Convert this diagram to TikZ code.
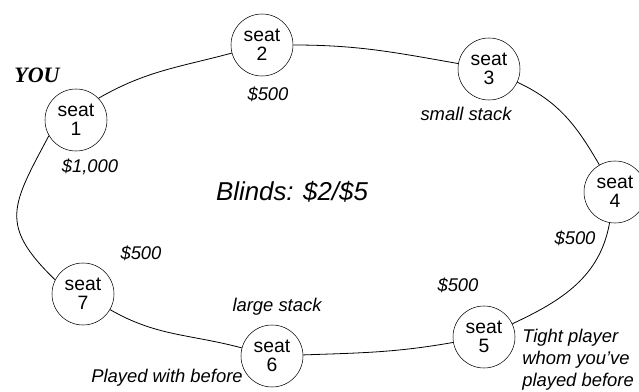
\documentclass[tikz,border=0pt]{standalone}
\usepackage{fontspec}
\setmainfont{Liberation Sans}
\newfontfamily\youfont{Liberation Serif}
\usetikzlibrary{positioning}

\tikzset{
  seat/.style={draw, circle, minimum size=46.5pt, inner sep=0pt, align=center,
    font=\fontsize{14.5}{14.5}\selectfont},
  note/.style={font=\fontsize{13.8}{16.5}\selectfont\itshape, inner sep=0pt},
  rim/.style={line width=0.6pt}
}

\begin{document}
\begin{tikzpicture}[x=0.75pt, y=-0.75pt]
    \useasboundingbox (0,0) rectangle (639,392);
    % seats round the table
    \node[seat] (s1) at (76,120) {seat\\1};
    \node[seat] (s2) at (262,45) {seat\\2};
    \node[seat] (s3) at (489,69) {seat\\3};
    \node[seat] (s4) at (615,192) {seat\\4};
    \node[seat] (s5) at (484,337) {seat\\5};
    \node[seat] (s6) at (272,356) {seat\\6};
    \node[seat] (s7) at (83,294) {seat\\7};
    % table edge
    \draw[rim] (s1.44) to[out=30, in=195] (s2);
    \draw[rim] (s2) to[out=0, in=170] (s3);
    \draw[rim] (s3) to[out=-25, in=120] (s4);
    \draw[rim] (s4) to[out=-100, in=25] (s5);
    \draw[rim] (s5) to[out=190, in=2] (s6);
    \draw[rim] (s6) to[out=165, in=-30] (s7);
    \draw[rim] (s7.153) to[out=136, in=-118, looseness=1.4] (s1.210);
    % stacks and notes
    \node[font=\fontsize{16.5}{16.5}\selectfont\youfont\bfseries\itshape] (you) at (37,75) {YOU};
    \node[note] (st2) at (268,94) {\$500};
    \node[note] (st1) at (90,167) {\$1,000};
    \node[note] (n3) at (466,114) {small stack};
    \node[font=\fontsize{19.4}{19.4}\selectfont\itshape] (blinds) at (292,192) {Blinds: \$2/\$5};
    \node[note] (st4) at (575,238) {\$500};
    \node[note] (st5) at (458,285) {\$500};
    \node[note, align=left, anchor=west] (n5) at (522,360) {Tight player\\whom you've\\played before};
    \node[note] (st7) at (141,253) {\$500};
    \node[note] (n6) at (277,307) {large stack};
    \node[note] (n6b) at (167,378) {Played with before};
\end{tikzpicture}
\end{document}
